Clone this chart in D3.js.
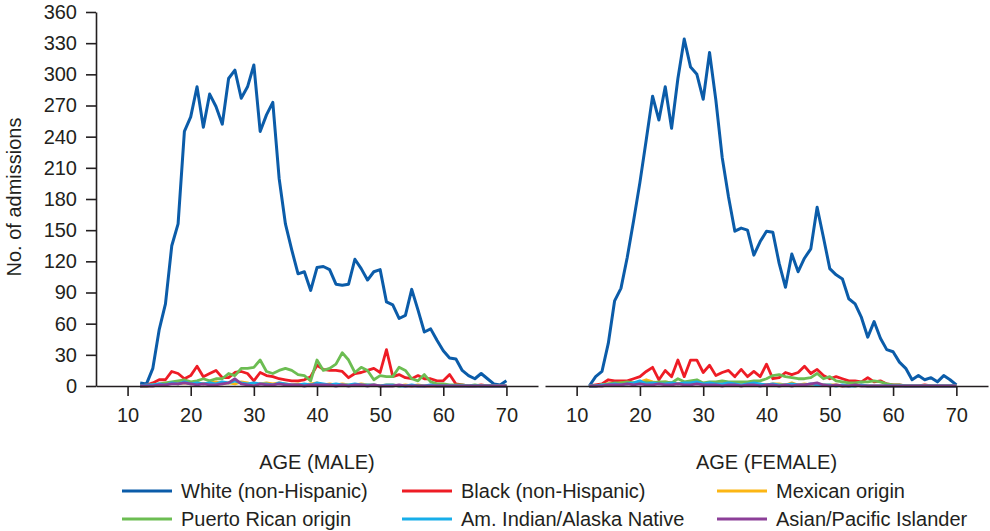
<!DOCTYPE html>
<html>
<head>
<meta charset="utf-8">
<script src="https://d3js.org/d3.v7.min.js"></script>
<style>
  body { margin: 0; background: #fff; }
  svg text { font-family: "Liberation Sans", Arial, sans-serif; fill: #231f20; }
</style>
</head>
<body>
<div id="chart"></div>
<script>
// ages 12..70, one value per year
var firstAge = 12;
var yTicks = [0, 30, 60, 90, 120, 150, 180, 210, 240, 270, 300, 330, 360];
var xTicks = [10, 20, 30, 40, 50, 60, 70];
var panelTitles = ["AGE (MALE)", "AGE (FEMALE)"];
var groupNames = ["White (non-Hispanic)", "Black (non-Hispanic)", "Mexican origin",
                  "Puerto Rican origin", "Am. Indian/Alaska Native", "Asian/Pacific Islander"];
var groupColors = ["#0b5ca9", "#ee1c25", "#fcb614", "#6cbd52", "#17aee9", "#8c3f98"];

var maleWhite = [3, 2, 17, 54, 79, 135, 156, 245, 259, 288,
  249, 281, 269, 252, 296, 304, 277, 288, 309, 245,
  261, 273, 200, 156, 131, 108, 110, 92, 114, 115,
  112, 98, 97, 98, 122, 113, 102, 110, 112, 81,
  78, 65, 68, 93, 73, 52, 55, 44, 34, 27,
  26, 15, 10, 7, 12, 7, 2, 1, 5];
var maleBlack = [0, 1, 3, 6, 6, 14, 12, 7, 10, 19,
  9, 12, 15, 8, 8, 13, 14, 12, 5, 13,
  10, 9, 7, 6, 5, 5, 6, 9, 20, 16,
  15, 15, 14, 8, 12, 13, 15, 17, 13, 35,
  9, 11, 8, 7, 10, 7, 7, 5, 5, 11,
  2, 1, 0, 0, 1, 0, 0, 0, 0];
var maleMexican = [0, 0, 1, 1, 2, 3, 2, 3, 2, 3,
  2, 3, 4, 2, 3, 2, 4, 3, 1, 2,
  3, 2, 3, 2, 1, 2, 1, 2, 3, 1,
  2, 1, 2, 1, 1, 2, 1, 1, 0, 1,
  1, 0, 1, 0, 1, 0, 0, 0, 0, 0,
  0, 0, 0, 0, 0, 0, 0, 0, 0];
var malePuertoRican = [0, 0, 1, 2, 3, 4, 5, 6, 4, 5,
  7, 5, 7, 7, 12, 10, 17, 17, 18, 25,
  14, 12, 15, 17, 15, 11, 10, 5, 25, 15,
  17, 21, 32, 25, 13, 18, 15, 6, 10, 9,
  9, 18, 15, 7, 5, 11, 4, 2, 2, 1,
  1, 1, 0, 1, 0, 0, 0, 0, 0];
var maleAmIndian = [0, 1, 1, 2, 1, 3, 2, 4, 2, 3,
  2, 3, 2, 4, 3, 5, 3, 2, 3, 2,
  2, 1, 3, 2, 1, 1, 2, 1, 3, 2,
  1, 2, 1, 1, 2, 1, 1, 1, 0, 1,
  1, 0, 0, 1, 0, 0, 1, 0, 0, 0,
  0, 0, 0, 0, 0, 0, 0, 0, 0];
var maleAsian = [0, 0, 0, 1, 1, 2, 2, 3, 2, 1,
  2, 1, 1, 2, 3, 7, 2, 1, 0, 2,
  1, 1, 2, 1, 1, 1, 0, 1, 1, 1,
  1, 0, 1, 0, 1, 1, 0, 1, 0, 0,
  0, 1, 0, 0, 0, 0, 0, 0, 0, 0,
  0, 0, 0, 0, 0, 0, 0, 0, 0];

var femaleWhite = [0, 9, 14, 41, 82, 94, 124, 159, 196, 237,
  279, 256, 288, 248, 296, 334, 307, 300, 276, 321,
  275, 220, 182, 149, 152, 150, 126, 139, 149, 148,
  118, 95, 127, 110, 123, 132, 172, 143, 113, 107,
  103, 84, 79, 66, 47, 62, 46, 35, 33, 23,
  17, 6, 10, 6, 8, 4, 10, 6, 1];
var femaleBlack = [0, 1, 2, 6, 5, 5, 5, 7, 9, 14,
  18, 6, 15, 9, 25, 9, 25, 25, 13, 20,
  10, 13, 15, 9, 16, 9, 14, 9, 21, 7,
  8, 13, 11, 13, 19, 12, 16, 10, 7, 9,
  7, 5, 5, 4, 8, 4, 5, 2, 1, 1,
  0, 0, 0, 1, 0, 0, 0, 0, 0];
var femaleMexican = [0, 0, 1, 2, 2, 3, 2, 3, 4, 6,
  4, 3, 4, 3, 2, 3, 4, 3, 2, 3,
  2, 4, 3, 2, 2, 3, 2, 1, 1, 2,
  2, 1, 3, 1, 2, 1, 2, 1, 1, 1,
  0, 1, 0, 1, 0, 0, 0, 0, 0, 0,
  0, 0, 0, 0, 0, 0, 0, 0, 0];
var femalePuertoRican = [0, 0, 1, 2, 3, 3, 4, 3, 3, 4,
  3, 4, 4, 3, 7, 4, 5, 6, 3, 4,
  4, 5, 4, 4, 4, 4, 5, 5, 7, 10,
  11, 9, 8, 7, 7, 8, 12, 7, 9, 5,
  4, 3, 3, 4, 4, 5, 4, 2, 1, 1,
  0, 0, 0, 0, 0, 0, 0, 0, 0];
var femaleAmIndian = [0, 0, 1, 1, 2, 1, 2, 3, 5, 2,
  3, 2, 2, 3, 2, 3, 3, 4, 2, 3,
  2, 2, 3, 2, 1, 2, 3, 2, 1, 2,
  1, 1, 2, 1, 1, 2, 1, 1, 1, 0,
  1, 0, 0, 1, 0, 0, 0, 0, 0, 0,
  0, 0, 0, 0, 0, 0, 0, 0, 0];
var femaleAsian = [0, 0, 0, 1, 1, 1, 2, 1, 2, 1,
  1, 2, 1, 1, 2, 1, 1, 2, 1, 1,
  1, 0, 1, 1, 0, 1, 1, 0, 1, 1,
  0, 1, 0, 1, 1, 2, 3, 1, 0, 1,
  0, 0, 1, 0, 0, 0, 0, 0, 0, 0,
  0, 0, 0, 0, 0, 0, 0, 0, 0];

var maleSeries = [maleWhite, maleBlack, maleMexican, malePuertoRican, maleAmIndian, maleAsian];
var femaleSeries = [femaleWhite, femaleBlack, femaleMexican, femalePuertoRican, femaleAmIndian, femaleAsian];

var width = 990, height = 531;
var svg = d3.select("#chart").append("svg")
    .attr("width", width)
    .attr("height", height);

var y = d3.scaleLinear().domain([0, 360]).range([386, 12]);
var panels = [
    {range: [96, 538], series: maleSeries, title: panelTitles[0], yAxis: true},
    {range: [545, 988], series: femaleSeries, title: panelTitles[1], yAxis: false}
];

function styleAxis(g) {
    g.selectAll("path, line").attr("stroke", "#231f20").attr("stroke-width", 1.6);
    g.selectAll("text").attr("font-size", 20).attr("font-family", null).attr("fill", "#231f20");
}

panels.forEach(function (p) {
    var x = d3.scaleLinear().domain([5, 75]).range(p.range);

    var line = d3.line()
        .x(function (d, i) { return x(firstAge + i); })
        .y(function (d) { return y(d); });

    // series lines, drawn in legend order
    p.series.forEach(function (vals, k) {
        svg.append("path")
            .datum(vals)
            .attr("d", line)
            .attr("fill", "none")
            .attr("stroke", groupColors[k])
            .attr("stroke-width", k === 0 ? 3 : 2.8)
            .attr("stroke-linejoin", "round");
    });

    var xa = svg.append("g")
        .attr("transform", "translate(0," + y(0) + ")")
        .call(d3.axisBottom(x).tickValues(xTicks).tickSize(10).tickSizeOuter(0).tickPadding(12));
    styleAxis(xa);

    if (p.yAxis) {
        var ya = svg.append("g")
            .attr("transform", "translate(" + p.range[0] + ",0)")
            .call(d3.axisLeft(y).tickValues(yTicks).tickSize(10).tickSizeOuter(0).tickPadding(9));
        styleAxis(ya);
    }

    svg.append("text")
        .attr("x", (p.range[0] + p.range[1]) / 2)
        .attr("y", 469)
        .attr("text-anchor", "middle")
        .attr("font-size", 20)
        .text(p.title);
});

svg.append("text")
    .attr("transform", "translate(21,197) rotate(-90)")
    .attr("text-anchor", "middle")
    .attr("font-size", 20)
    .text("No. of admissions");

// legend: 3 columns x 2 rows
var legX = [122, 402, 717];
var legY = [491, 519];
groupNames.forEach(function (name, k) {
    var cx = legX[k % 3], cy = legY[Math.floor(k / 3)];
    svg.append("line")
        .attr("x1", cx).attr("x2", cx + 50)
        .attr("y1", cy).attr("y2", cy)
        .attr("stroke", groupColors[k])
        .attr("stroke-width", 3);
    svg.append("text")
        .attr("x", cx + 59)
        .attr("y", cy)
        .attr("dy", "0.35em")
        .attr("font-size", 20)
        .text(name);
});
</script>
</body>
</html>
